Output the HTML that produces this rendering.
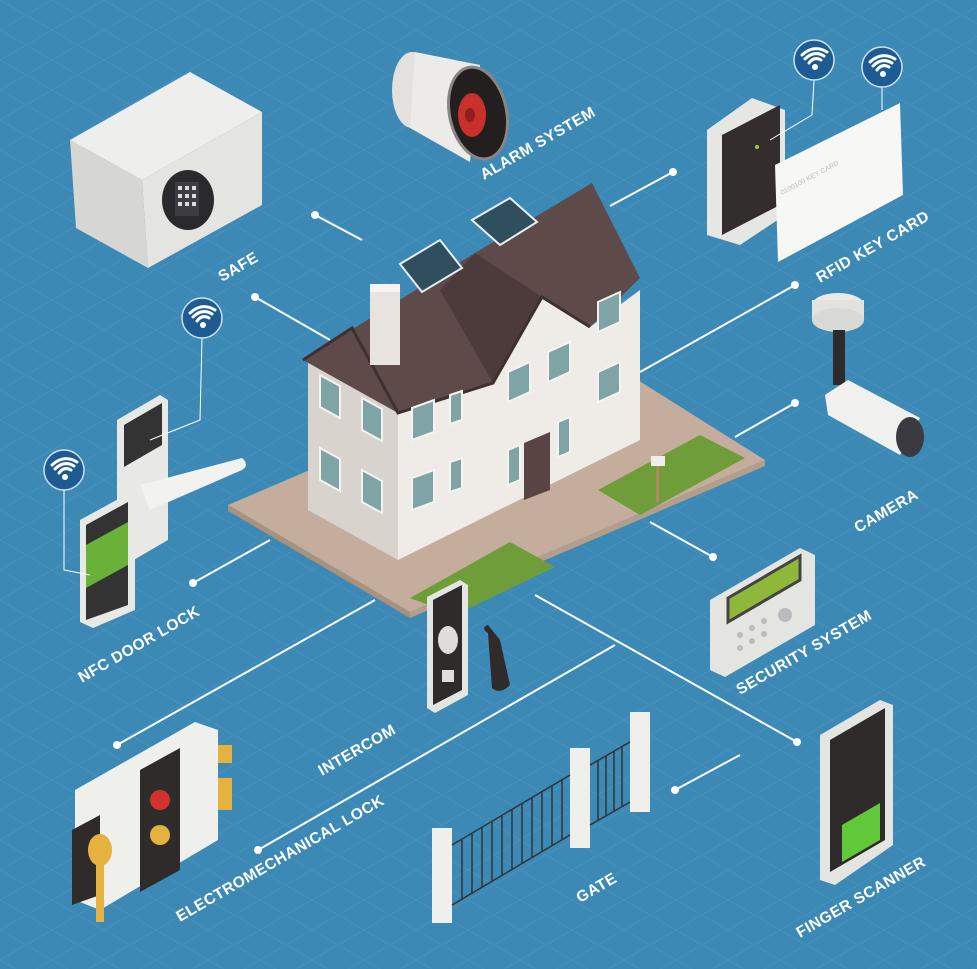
<!DOCTYPE html>
<html><head><meta charset="utf-8"><style>
html,body{margin:0;padding:0;background:#3c89b6;}
svg{display:block}
.l{font-family:"Liberation Sans",sans-serif;font-weight:bold;font-size:15.5px;fill:#fff;letter-spacing:0.5px}
.c{stroke:#fff;stroke-width:2;fill:none}
.d{fill:#fff}
.w{stroke:#fff;stroke-width:3;fill:none;stroke-linecap:round}
</style></head><body>
<svg width="977" height="969" viewBox="0 0 977 969" xmlns="http://www.w3.org/2000/svg">
<defs>
<pattern id="g" width="52" height="30" patternUnits="userSpaceOnUse">
<path d="M0 0 L52 30 M0 30 L52 0" stroke="#6aa6cc" stroke-width="1" opacity="0.2"/>
</pattern>
<g id="wf">
<circle cx="0" cy="0" r="20" fill="#1e5b92" stroke="#cfe0ee" stroke-width="1.5"/>
<circle cx="1" cy="7" r="3" fill="#fff"/>
<path class="w" d="M-5 3 Q0 -4 7 0 M-9 -1 Q0 -10 10 -4 M-12 -5 Q0 -16 13 -8"/>
</g>
</defs>
<rect width="977" height="969" fill="#3c89b6"/>
<rect width="977" height="969" fill="url(#g)"/>

<!-- connectors -->
<g class="c">
<path d="M315 215 L362 240"/><path d="M255 297 L330 340"/>
<path d="M673 172 L610 206"/><path d="M795 285 L640 372"/>
<path d="M795 403 L735 437"/><path d="M713 557 L650 522"/>
<path d="M193 583 L270 540"/><path d="M117 745 L375 600"/>
<path d="M258 850 L615 645"/><path d="M675 790 L740 755"/>
<path d="M797 742 L535 595"/>
</g>
<g class="d">
<circle cx="315" cy="215" r="4"/><circle cx="255" cy="297" r="4"/><circle cx="673" cy="172" r="4"/>
<circle cx="795" cy="285" r="4"/><circle cx="795" cy="403" r="4"/><circle cx="713" cy="557" r="4"/>
<circle cx="193" cy="583" r="4"/><circle cx="117" cy="745" r="4"/><circle cx="258" cy="850" r="4"/>
<circle cx="675" cy="790" r="4"/><circle cx="797" cy="742" r="4"/>
</g>

<!-- plot -->
<polygon points="228,505 590,350 765,460 410,612" fill="#c4ad9c"/>
<polygon points="228,505 410,612 410,618 228,511" fill="#a8917f"/>
<polygon points="410,612 765,460 765,466 410,618" fill="#b39d8b"/>
<polygon points="410,598 510,542 555,567 455,615" fill="#6f9d3a"/>
<polygon points="598,490 700,435 745,458 640,515" fill="#6f9d3a"/>
<rect x="656" y="462" width="3" height="40" fill="#b08a5a"/><rect x="651" y="456" width="14" height="10" fill="#eee"/>

<!-- house -->
<polygon points="308,362 352,330 398,413 398,560 308,510" fill="#d9d3cd"/>
<polygon points="398,413 493,383 542,297 590,327 640,290 640,440 398,560" fill="#efebe7"/>
<polygon points="303,360 475,253 592,183 640,278 590,327 542,297 493,383 398,413" fill="#5f4a4a"/>
<polygon points="475,253 542,297 493,383 440,290" fill="#4d3b3b"/>
<path d="M303 360 L352 328 L398 413 L493 383 L542 297 L590 327" stroke="#3f3030" stroke-width="3" fill="none"/>
<rect x="370" y="290" width="30" height="75" fill="#e8e3de"/><rect x="370" y="284" width="30" height="8" fill="#f6f3f0"/>
<g fill="#7fa4a6" stroke="#f5f3f0" stroke-width="2">
<polygon points="320,375 340,386 340,418 320,407"/><polygon points="362,398 382,409 382,441 362,430"/>
<polygon points="320,448 340,459 340,491 320,480"/><polygon points="362,470 382,481 382,513 362,502"/>
<polygon points="412,408 434,400 434,432 412,440"/><polygon points="412,478 434,470 434,502 412,510"/>
<polygon points="450,395 462,391 462,420 450,424"/><polygon points="450,462 462,458 462,488 450,492"/>
<polygon points="508,372 530,362 530,392 508,402"/><polygon points="548,352 570,342 570,372 548,382"/>
<polygon points="598,302 620,292 620,322 598,332"/><polygon points="598,372 620,362 620,392 598,402"/>
<polygon points="508,450 520,445 520,480 508,485"/><polygon points="558,422 570,417 570,452 558,457"/>
</g>
<polygon points="524,443 550,432 550,490 524,500" fill="#5a4343"/>
<g fill="#2f4f5f" stroke="#e8eef2" stroke-width="2">
<polygon points="400,264 440,240 462,268 422,292"/><polygon points="472,220 510,198 537,222 500,245"/>
</g>

<!-- safe -->
<polygon points="70,140 190,72 262,112 142,180" fill="#eeeeec"/>
<polygon points="70,140 142,180 148,268 76,228" fill="#d6d6d3"/>
<polygon points="142,180 262,112 262,205 148,268" fill="#e4e4e1"/>
<ellipse cx="188" cy="200" rx="26" ry="30" fill="#2a2a2c"/>
<rect x="175" y="182" width="24" height="34" fill="#3d3d40"/>
<g fill="#ddd"><rect x="178" y="186" width="4" height="4"/><rect x="185" y="186" width="4" height="4"/><rect x="192" y="186" width="4" height="4"/><rect x="178" y="194" width="4" height="4"/><rect x="185" y="194" width="4" height="4"/><rect x="192" y="194" width="4" height="4"/><rect x="178" y="202" width="4" height="4"/><rect x="185" y="202" width="4" height="4"/><rect x="192" y="202" width="4" height="4"/></g>

<!-- alarm -->
<ellipse cx="412" cy="90" rx="20" ry="38" fill="#e2e1de"/>
<polygon points="415,52 480,65 470,162 410,128" fill="#ecebe8"/>
<ellipse cx="478" cy="113" rx="30" ry="48" transform="rotate(-12 478 113)" fill="#8a8585"/>
<ellipse cx="478" cy="113" rx="27" ry="45" transform="rotate(-12 478 113)" fill="#231f1f"/>
<ellipse cx="472" cy="115" rx="14" ry="22" fill="#c8302b"/>
<ellipse cx="470" cy="115" rx="5" ry="7" fill="#8e1f1c"/>

<!-- RFID -->
<polygon points="707,130 752,98 785,110 785,215 740,245 707,235" fill="#e6e6e3"/>
<polygon points="722,135 780,105 780,205 722,235" fill="#332d2d"/>
<circle cx="757" cy="147" r="2" fill="#8fd040"/>
<polygon points="775,165 900,103 903,195 778,262" fill="#f7f7f5"/>
<text x="0" y="0" font-family="Liberation Sans,sans-serif" font-size="7" fill="#bbb" transform="translate(782,195) rotate(-28)">0100100 KEY CARD</text>
<path d="M814 80 L812 115 L770 140 M882 87 L882 110" class="c" style="stroke-width:1"/>
<use href="#wf" x="814" y="60"/><use href="#wf" x="882" y="67"/>

<!-- camera -->
<ellipse cx="838" cy="305" rx="26" ry="12" fill="#e9e9e6"/>
<rect x="812" y="300" width="52" height="20" fill="#e2e2df"/>
<ellipse cx="838" cy="320" rx="26" ry="12" fill="#d8d8d5"/>
<rect x="833" y="330" width="12" height="55" fill="#2e2a2a"/>
<polygon points="825,395 848,380 920,418 900,455 828,415" fill="#f0f0ee"/>
<ellipse cx="910" cy="437" rx="14" ry="20" fill="#3a3a40"/>

<!-- security keypad -->
<polygon points="710,600 800,548 815,555 815,625 725,677 710,670" fill="#e4e4e1"/>
<polygon points="728,598 800,556 800,580 728,622" fill="#8fb83a" stroke="#444" stroke-width="3"/>
<g fill="#bbb"><circle cx="740" cy="635" r="3"/><circle cx="752" cy="628" r="3"/><circle cx="764" cy="621" r="3"/><circle cx="740" cy="648" r="3"/><circle cx="752" cy="641" r="3"/><circle cx="764" cy="634" r="3"/><circle cx="785" cy="615" r="7"/></g>

<!-- finger scanner -->
<polygon points="820,735 880,700 893,705 893,845 835,885 820,880" fill="#e4e4e1"/>
<polygon points="830,740 885,708 885,840 830,872" fill="#2f2b2b"/>
<polygon points="842,825 880,803 880,840 842,862" fill="#5fc93a"/>

<!-- intercom -->
<polygon points="427,597 460,580 468,585 468,695 435,713 427,708" fill="#e4e4e1"/>
<polygon points="433,600 462,585 462,690 433,705" fill="#2f2b2b"/>
<ellipse cx="448" cy="640" rx="10" ry="14" fill="#ddd"/>
<rect x="442" y="670" width="12" height="12" fill="#ddd"/>
<path d="M488 633 Q480 628 488 625 L500 640 L510 685 Q500 695 492 688 Z" fill="#2f2b2b"/>

<!-- NFC door lock -->
<polygon points="117,420 160,395 168,400 168,540 125,565 117,560" fill="#e8e8e5"/>
<polygon points="124,425 162,403 162,445 124,467" fill="#333"/>
<path d="M140 485 L242 458 Q250 465 242 470 L150 510 Z" fill="#f2f2ef"/>
<polygon points="80,520 122,497 135,505 135,610 93,628 80,622" fill="#e8e8e5"/>
<polygon points="86,525 128,502 128,605 86,620" fill="#333"/>
<polygon points="86,545 128,522 128,565 86,588" fill="#6ab13a"/>
<path d="M64 490 L64 570 L90 575 M202 338 L200 420 L150 440" class="c" style="stroke-width:1"/>
<use href="#wf" x="64" y="470"/><use href="#wf" x="202" y="318"/>

<!-- electromechanical lock -->
<polygon points="75,790 195,722 218,730 218,840 100,910 75,900" fill="#efefec"/>
<polygon points="140,770 180,748 180,870 140,892" fill="#2f2b2b"/>
<circle cx="160" cy="800" r="10" fill="#d3312e"/><circle cx="160" cy="835" r="10" fill="#e6b23f"/>
<rect x="218" y="745" width="14" height="18" fill="#e6b23f"/><rect x="218" y="778" width="14" height="32" fill="#e6b23f"/>
<polygon points="72,830 100,815 100,895 72,905" fill="#2f2b2b"/>
<ellipse cx="100" cy="850" rx="12" ry="16" fill="#e6b23f"/><rect x="96" y="860" width="8" height="62" fill="#e6b23f"/>

<!-- gate -->
<g fill="#efefec">
<rect x="432" y="828" width="20" height="95"/><rect x="570" y="748" width="20" height="100"/><rect x="630" y="712" width="20" height="100"/>
</g>
<g stroke="#333" stroke-width="1.5">
<path d="M452 845 L570 775 M452 905 L570 835"/>
<path d="M590 765 L630 742 M590 825 L630 802"/>
<path d="M462 840 V900 M472 834 V894 M482 828 V888 M492 822 V882 M502 816 V876 M512 810 V870 M522 804 V864 M532 798 V858 M542 792 V852 M552 786 V846 M562 780 V840 M598 760 V820 M606 756 V816 M614 751 V811 M622 746 V806"/>
</g>

<!-- labels -->
<text class="l" transform="translate(222,282) rotate(-30)">SAFE</text>
<text class="l" transform="translate(484,180) rotate(-30)">ALARM SYSTEM</text>
<text class="l" transform="translate(820,283) rotate(-30)">RFID KEY CARD</text>
<text class="l" transform="translate(82,683) rotate(-30)">NFC DOOR LOCK</text>
<text class="l" transform="translate(858,533) rotate(-30)">CAMERA</text>
<text class="l" transform="translate(740,695) rotate(-30)">SECURITY SYSTEM</text>
<text class="l" transform="translate(322,776) rotate(-30)">INTERCOM</text>
<text class="l" transform="translate(180,922) rotate(-30)">ELECTROMECHANICAL LOCK</text>
<text class="l" transform="translate(580,903) rotate(-30)">GATE</text>
<text class="l" transform="translate(800,938) rotate(-30)">FINGER SCANNER</text>
</svg>
</body></html>
